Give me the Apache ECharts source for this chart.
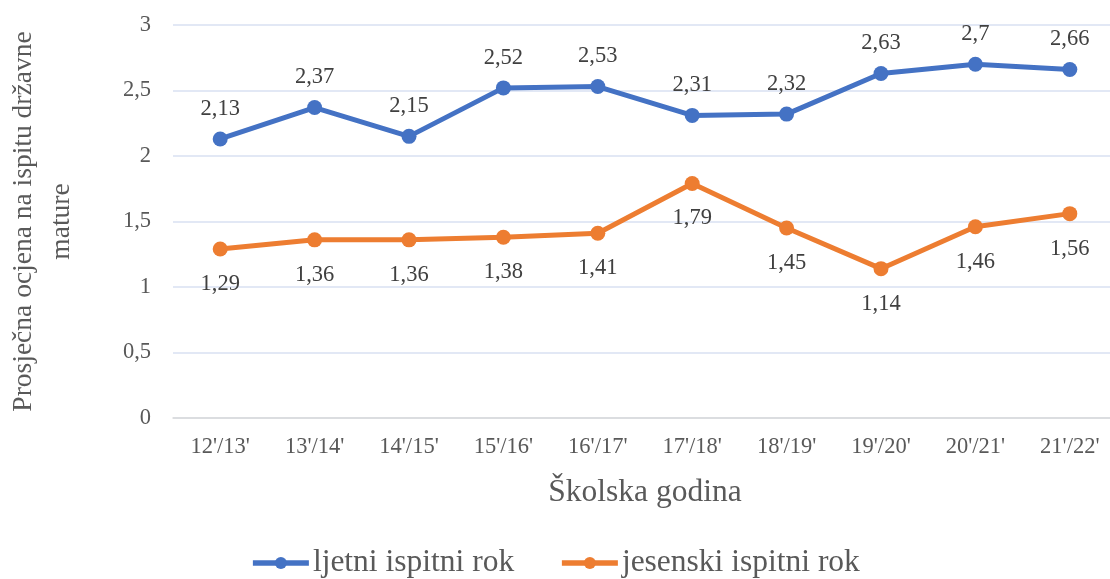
<!DOCTYPE html>
<html>
<head>
<meta charset="utf-8">
<script src="https://cdn.jsdelivr.net/npm/echarts@6/dist/echarts.min.js"></script>
<style>
  html, body { margin: 0; padding: 0; background: #fff; }
  #chart { width: 1110px; height: 579px; }
</style>
</head>
<body>
<div id="chart"></div>
<script>
// školske godine
const godine = ["12'/13'", "13'/14'", "14'/15'", "15'/16'", "16'/17'", "17'/18'", "18'/19'", "19'/20'", "20'/21'", "21'/22'"]
const ljetni = [2.13, 2.37, 2.15, 2.52, 2.53, 2.31, 2.32, 2.63, 2.7, 2.66]
const jesenski = [1.29, 1.36, 1.36, 1.38, 1.41, 1.79, 1.45, 1.14, 1.46, 1.56]
const yTicks = [0, 0.5, 1, 1.5, 2, 2.5, 3]

const font = 'Liberation Serif'
const txt = '#595959'
const fmt = v => String(v).replace('.', ',')

const chart = echarts.init(document.getElementById('chart'))

const label = (pos, dist) => ({
  show: true,
  position: pos,
  distance: dist,
  fontFamily: font,
  fontSize: 22.5,
  color: '#404040',
  formatter: p => fmt(p.value)
})

chart.setOption({
  animation: false,
  textStyle: {fontFamily: font},
  grid: {left: 173, top: 25, width: 944, height: 393, containLabel: false, outerBoundsMode: 'none'},
  xAxis: {
    type: 'category',
    data: godine,
    name: 'Školska godina',
    nameLocation: 'middle',
    nameGap: 59,
    nameTextStyle: {fontFamily: font, fontSize: 31.5, color: txt},
    axisLine: {lineStyle: {color: '#d9d9d9', width: 1.5}},
    axisTick: {show: false},
    axisLabel: {fontFamily: font, fontSize: 22.5, color: txt, margin: 18}
  },
  yAxis: {
    type: 'value',
    min: yTicks[0],
    max: yTicks[yTicks.length - 1],
    interval: 0.5,
    name: 'Prosječna ocjena na ispitu državne\nmature',
    nameLocation: 'middle',
    nameGap: 92,
    nameTextStyle: {fontFamily: font, fontSize: 27.5, color: txt, lineHeight: 38},
    axisLine: {show: false},
    axisTick: {show: false},
    axisLabel: {fontFamily: font, fontSize: 22.5, color: txt, margin: 22, formatter: fmt},
    splitLine: {lineStyle: {color: '#d9e1f2', width: 1.5}}
  },
  legend: {
    top: 542,
    left: 'center',
    itemWidth: 56,
    itemHeight: 15,
    itemGap: 45,
    lineStyle: {width: 5.5},
    textStyle: {fontFamily: font, fontSize: 31.5, color: txt, padding: [0, 0, 0, -1]},
    data: ['ljetni ispitni rok', 'jesenski ispitni rok']
  },
  series: [
    {
      name: 'ljetni ispitni rok',
      type: 'line',
      data: ljetni,
      symbol: 'circle',
      symbolSize: 15,
      itemStyle: {color: '#4472c4'},
      lineStyle: {width: 5, color: '#4472c4'},
      label: label('top', 11)
    },
    {
      name: 'jesenski ispitni rok',
      type: 'line',
      data: jesenski,
      symbol: 'circle',
      symbolSize: 15,
      itemStyle: {color: '#ed7d31'},
      lineStyle: {width: 5, color: '#ed7d31'},
      label: label('bottom', 16)
    }
  ]
})
</script>
</body>
</html>
